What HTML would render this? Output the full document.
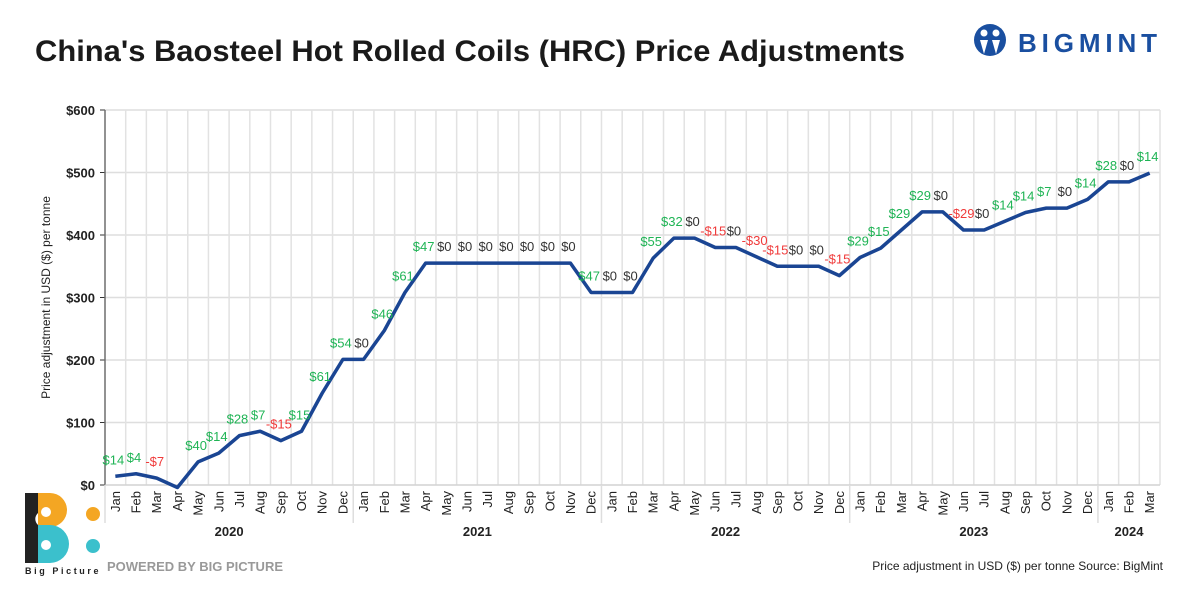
<!DOCTYPE html>
<html><head><meta charset="utf-8">
<style>
body{margin:0;width:1200px;height:600px;background:#fff;overflow:hidden;font-family:"Liberation Sans",sans-serif;}
svg{display:block}
</style></head>
<body>
<svg id="c" width="1200" height="600" xmlns="http://www.w3.org/2000/svg">
  <text x="35" y="61" font-size="30" font-weight="bold" fill="#1a1a1a" textLength="870" lengthAdjust="spacingAndGlyphs">China's Baosteel Hot Rolled Coils (HRC) Price Adjustments</text>
  <g>
    <circle cx="990" cy="40" r="16" fill="#1a4fa0"/>
    <circle cx="984" cy="33" r="3.5" fill="#fff"/>
    <circle cx="996" cy="33" r="3.5" fill="#fff"/>
    <path d="M980 40 L984 54 L988 40 Z M992 40 L996 54 L1000 40 Z" fill="#fff"/>
    <text x="1018" y="52" font-size="26" font-weight="bold" fill="#1a4fa0" textLength="139" lengthAdjust="spacing">BIGMINT</text>
  </g>
  <g id="plot"></g>
  <g>
    <path d="M25 493 H50 A17 17 0 0 1 50 527 H38 V493 Z" fill="#f4a623"/>
    <path d="M38 525 H50 A19 19 0 0 1 50 563 H38 Z" fill="#3bc0cc"/>
    <path d="M25 493 H38 V513 A8 8 0 0 0 38 525 V563 H25 Z" fill="#222"/>
    <circle cx="46" cy="512" r="5" fill="#fff"/>
    <circle cx="46" cy="545" r="5" fill="#fff"/>
    <circle cx="93" cy="514" r="7" fill="#f4a623"/>
    <circle cx="93" cy="546" r="7" fill="#3bc0cc"/>
    <text x="25" y="574" font-size="9" font-weight="bold" fill="#222" letter-spacing="2.6">Big Picture</text>
  </g>
  <text x="107" y="571" font-size="13" font-weight="bold" fill="#999">POWERED BY BIG PICTURE</text>
  <text x="1163" y="570" font-size="12" fill="#222" text-anchor="end">Price adjustment in USD ($) per tonne Source: BigMint</text>
</svg>
<script>
const months=["Jan","Feb","Mar","Apr","May","Jun","Jul","Aug","Sep","Oct","Nov","Dec","Jan","Feb","Mar","Apr","May","Jun","Jul","Aug","Sep","Oct","Nov","Dec","Jan","Feb","Mar","Apr","May","Jun","Jul","Aug","Sep","Oct","Nov","Dec","Jan","Feb","Mar","Apr","May","Jun","Jul","Aug","Sep","Oct","Nov","Dec","Jan","Feb","Mar"];
const years=["2020","2021","2022","2023","2024"];
const yearCounts=[12,12,12,12,3];
const prices=[14,18,11,-4,37,51,79,86,71,86,147,201,201,247,308,355,355,355,355,355,355,355,355,308,308,308,363,395,395,380,380,365,350,350,350,335,364,379,408,437,437,408,408,422,436,443,443,457,485,485,499];
const changes=[14,4,-7,null,40,14,28,7,-15,15,61,54,0,46,61,47,0,0,0,0,0,0,0,47,0,0,55,32,0,-15,0,-30,-15,0,0,-15,29,15,29,29,0,-29,0,14,14,7,0,14,28,0,14];
const yTicks=[0,100,200,300,400,500,600];

const NS="http://www.w3.org/2000/svg";
const g=document.getElementById('plot');
const L=105,R=1160,T=110,B=485;
const bw=(R-L)/months.length;
const X=i=>L+bw*(i+0.5);
const Y=v=>B-(v-0)/(600-0)*(B-T);
function el(tag,attrs,parent){const e=document.createElementNS(NS,tag);for(const k in attrs)e.setAttribute(k,attrs[k]);(parent||g).appendChild(e);return e;}

yTicks.forEach(t=>{
  const ln=el('line',{x1:L,x2:R,y1:Y(t),y2:Y(t),stroke:'#dedede','stroke-width':1.5});
  
  
  const tx=el('text',{x:L-10,y:Y(t)+5,'font-size':13,'font-weight':'bold','text-anchor':'end',fill:'#222'});
  tx.textContent='$'+t;
  
  
  const tk=el('line',{x1:L-5,x2:L,y1:Y(t),y2:Y(t),stroke:'#333'});
  
  
});
for(let i=0;i<=months.length;i++){
  const ln=el('line',{x1:L+bw*i,x2:L+bw*i,y1:T,y2:B,stroke:'#e2e2e2','stroke-width':1.5});
  
  
}
const ax=el('line',{x1:L,x2:L,y1:T,y2:B,stroke:'#333','stroke-width':1});


const xa=el('line',{x1:L,x2:R,y1:B,y2:B,stroke:'#ccc','stroke-width':1});



months.forEach((m,i)=>{
  const t=el('text',{x:0,y:0,'font-size':13,fill:'#222','text-anchor':'end',transform:`translate(${X(i)+4.5},${B+6}) rotate(-90)`});
  t.textContent=m;
  
  
});
let start=0;
years.forEach((yr,k)=>{
  const n=yearCounts[k];
  const sep=el('line',{x1:L+bw*start,x2:L+bw*start,y1:B,y2:B+38,stroke:'#ddd','stroke-width':1.5});
  
  
  const t=el('text',{x:L+bw*(start+n/2),y:536,'font-size':13,'font-weight':'bold',fill:'#222','text-anchor':'middle'});
  t.textContent=yr;
  
  
  start+=n;
});

const at=el('text',{x:0,y:0,'font-size':12,fill:'#222','text-anchor':'middle',transform:`translate(50,${(T+B)/2}) rotate(-90)`});
at.textContent='Price adjustment in USD ($) per tonne';



const line=el('polyline',{points:prices.map((v,i)=>X(i)+','+Y(v)).join(' '),fill:'none',stroke:'#1a4593','stroke-width':3.5,'stroke-linejoin':'round'});



changes.forEach((c,i)=>{
  if(c===null)return;
  const col=c>0?'#1fb455':(c<0?'#f03a3a':'#333');
  const t=el('text',{x:X(i)-2,y:Y(prices[i])-12,'font-size':13,fill:col,'text-anchor':'middle'});
  t.textContent=(c<0?'-$'+(-c):'$'+c);
  
  
});
</script>
</body></html>
